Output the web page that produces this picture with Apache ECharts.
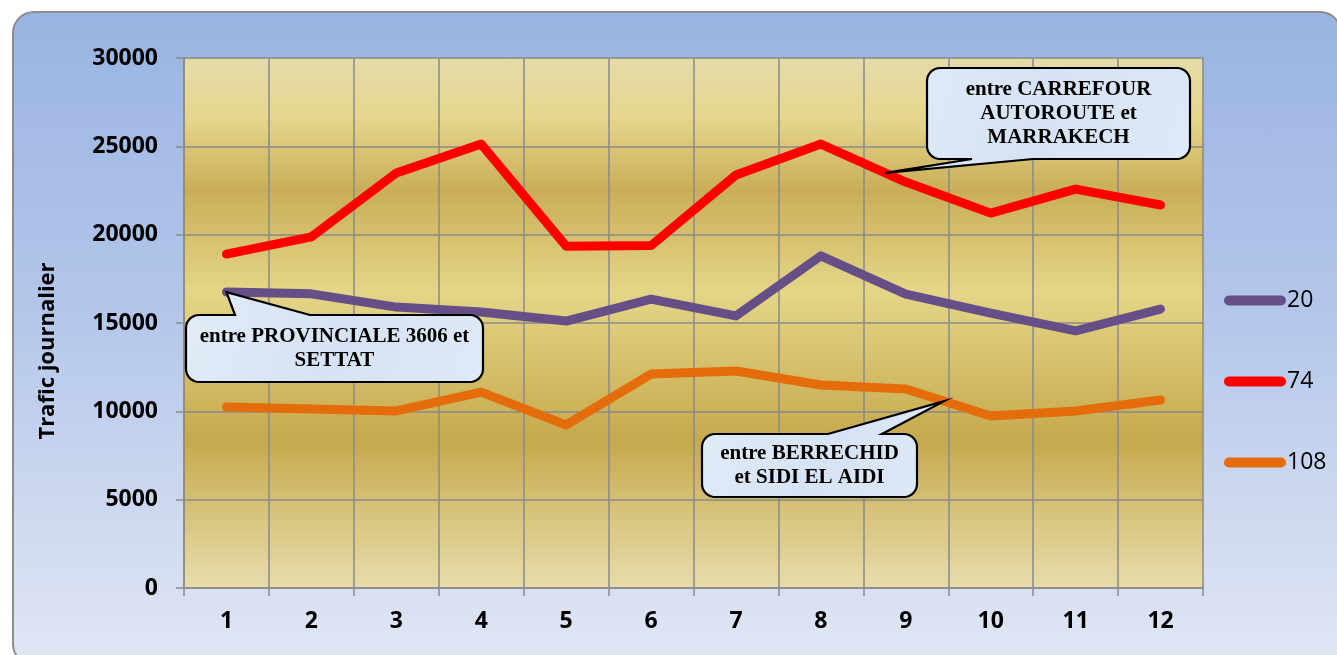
<!DOCTYPE html>
<html>
<head>
<meta charset="utf-8">
<script src="https://cdn.jsdelivr.net/npm/echarts@6/dist/echarts.min.js"></script>
<style>
  html, body { margin: 0; padding: 0; background: #ffffff; }
  #panel {
    position: absolute; left: 12px; top: 11px; width: 1330px; height: 655px;
    border: 2px solid #8c8c8c; border-radius: 22px; box-sizing: border-box;
    background: linear-gradient(to bottom, #99b4e2 0%, #b3c6ea 45%, #e1e7f4 100%);
  }
  #chart { position: absolute; left: 0; top: 0; width: 1337px; height: 655px; }
</style>
</head>
<body>
<div id="panel"></div>
<div id="chart"></div>
<script>
const categories = ['1', '2', '3', '4', '5', '6', '7', '8', '9', '10', '11', '12'];
const seriesNames = ['20', '74', '108'];
const values20 = [16750, 16650, 15900, 15620, 15110, 16350, 15400, 18800, 16640, 15560, 14550, 15790];
const values74 = [18900, 19870, 23490, 25130, 19350, 19380, 23380, 25130, 22980, 21220, 22580, 21680];
const values108 = [10240, 10130, 10020, 11090, 9230, 12110, 12280, 11490, 11260, 9740, 10020, 10640];
const yTicks = { min: 0, max: 30000, interval: 5000 };
const yAxisTitle = 'Trafic journalier';
const callouts = [
  { text: 'entre CARREFOUR\nAUTOROUTE et\nMARRAKECH', series: 1, from: 7, to: 8, t: 0.76 },
  { text: 'entre PROVINCIALE 3606 et\nSETTAT', series: 0, from: 0, to: 0, t: 0 },
  { text: 'entre BERRECHID\net SIDI EL AIDI', series: 2, from: 8, to: 9, t: 0.45 }
];
const colors = ['#664e86', '#ff0000', '#e46c0a'];

const chart = echarts.init(document.getElementById('chart'), null, { renderer: 'canvas' });
const allValues = [values20, values74, values108];
const fontSans = '"Open Sans", "DejaVu Sans", sans-serif';

const option = {
  backgroundColor: 'transparent',
  animation: false,
  grid: {
    left: 184, right: 134, top: 58, bottom: 67,
    show: true, borderWidth: 0,
    backgroundColor: {
      type: 'linear', x: 0, y: 0, x2: 0, y2: 1,
      colorStops: [
        { offset: 0, color: '#e4dbaa' },
        { offset: 0.11, color: '#e6d78e' },
        { offset: 0.25, color: '#c9ae57' },
        { offset: 0.44, color: '#e4d688' },
        { offset: 0.72, color: '#c6a94d' },
        { offset: 1, color: '#e7ddab' }
      ]
    }
  },
  legend: {
    orient: 'vertical', left: 1224, top: 289, padding: 0,
    itemWidth: 62, itemHeight: 10, itemGap: 58,
    icon: 'path://M5,0 L57,0 A5,5 0 0 1 57,10 L5,10 A5,5 0 0 1 5,0 Z',
    textStyle: { fontFamily: fontSans, fontSize: 23, color: '#000', lineHeight: 22, padding: [0, 0, 0, -4] },
    data: seriesNames
  },
  xAxis: {
    type: 'category', data: categories, boundaryGap: true,
    axisLine: { lineStyle: { color: '#8a8a8a', width: 1.5 } },
    axisTick: { show: true, length: 8, lineStyle: { color: '#8a8a8a', width: 1.5 } },
    axisLabel: { fontFamily: fontSans, fontWeight: 'bold', fontSize: 23, color: '#000', margin: 22 },
    splitLine: { show: true, lineStyle: { color: '#8a8a8a', width: 1.5 } }
  },
  yAxis: {
    type: 'value', min: yTicks.min, max: yTicks.max, interval: yTicks.interval,
    axisLine: { show: true, lineStyle: { color: '#8a8a8a', width: 1.5 } },
    axisTick: { show: true, length: 8, lineStyle: { color: '#8a8a8a', width: 1.5 } },
    axisLabel: { fontFamily: fontSans, fontWeight: 'bold', fontSize: 23, color: '#000', margin: 26,
      formatter: v => String(v) },
    splitLine: { show: true, lineStyle: { color: '#8a8a8a', width: 1.5 } }
  },
  series: allValues.map((vals, i) => ({
    name: seriesNames[i], type: 'line', data: vals,
    showSymbol: false, symbol: 'none',
    color: colors[i],
    lineStyle: { color: colors[i], width: 9, cap: 'round', join: 'round' },
    z: 3 + (i === 1 ? 1 : 0)
  }))
};
chart.setOption(option);

function pt(s, idx) {
  return chart.convertToPixel({ gridIndex: 0 }, [idx, allValues[s][idx]]);
}
function tipOf(c) {
  const a = pt(c.series, c.from), b = pt(c.series, c.to);
  return [a[0] + (b[0] - a[0]) * c.t, a[1] + (b[1] - a[1]) * c.t];
}
function arc(pts, cx, cy, r, a0, a1) {
  const n = 8;
  for (let k = 0; k <= n; k++) {
    const a = a0 + (a1 - a0) * k / n;
    pts.push([cx + r * Math.cos(a), cy + r * Math.sin(a)]);
  }
}
function calloutPoints(x, y, w, h, r, side, b1, b2, tip) {
  const P = Math.PI, pts = [];
  arc(pts, x + r, y + r, r, P, 1.5 * P);
  if (side === 'top') { pts.push([b1, y], tip, [b2, y]); }
  arc(pts, x + w - r, y + r, r, 1.5 * P, 2 * P);
  arc(pts, x + w - r, y + h - r, r, 0, 0.5 * P);
  if (side === 'bottom') { pts.push([b2, y + h], tip, [b1, y + h]); }
  arc(pts, x + r, y + h - r, r, 0.5 * P, P);
  return pts;
}
const boxes = [
  { x: 927, y: 68, w: 263, h: 91, side: 'bottom', b1: 972, b2: 1033 },
  { x: 186, y: 315, w: 297, h: 67, side: 'top', b1: 235, b2: 310 },
  { x: 702, y: 434, w: 215, h: 63, side: 'top', b1: 828, b2: 882 }
];
const fill = {
  type: 'linear', x: 0, y: 0, x2: 1, y2: 1,
  colorStops: [
    { offset: 0, color: '#e2ecf8' },
    { offset: 0.5, color: '#d6e3f4' },
    { offset: 1, color: '#dfe9f7' }
  ]
};
const elements = [];
callouts.forEach((c, i) => {
  const b = boxes[i];
  const tip = tipOf(c);
  elements.push({
    type: 'polygon', z: 100,
    shape: { points: calloutPoints(b.x, b.y, b.w, b.h, 13, b.side, b.b1, b.b2, tip) },
    style: { fill: fill, stroke: '#000', lineWidth: 2.2, lineJoin: 'miter' }
  });
  elements.push({
    type: 'text', z: 101,
    x: b.x + b.w / 2, y: b.y + b.h / 2,
    style: {
      text: c.text, align: 'center', verticalAlign: 'middle',
      font: 'bold 21px "Liberation Serif", "Times New Roman", serif',
      lineHeight: 24, fill: '#000'
    }
  });
});
elements.push({
  type: 'text', z: 50, x: 48, y: 351, rotation: Math.PI / 2,
  style: {
    text: yAxisTitle, align: 'center', verticalAlign: 'middle',
    font: 'bold 22px "Open Sans", "DejaVu Sans", sans-serif', fill: '#000'
  }
});
chart.setOption({ graphic: { elements: elements } });
</script>
</body>
</html>
